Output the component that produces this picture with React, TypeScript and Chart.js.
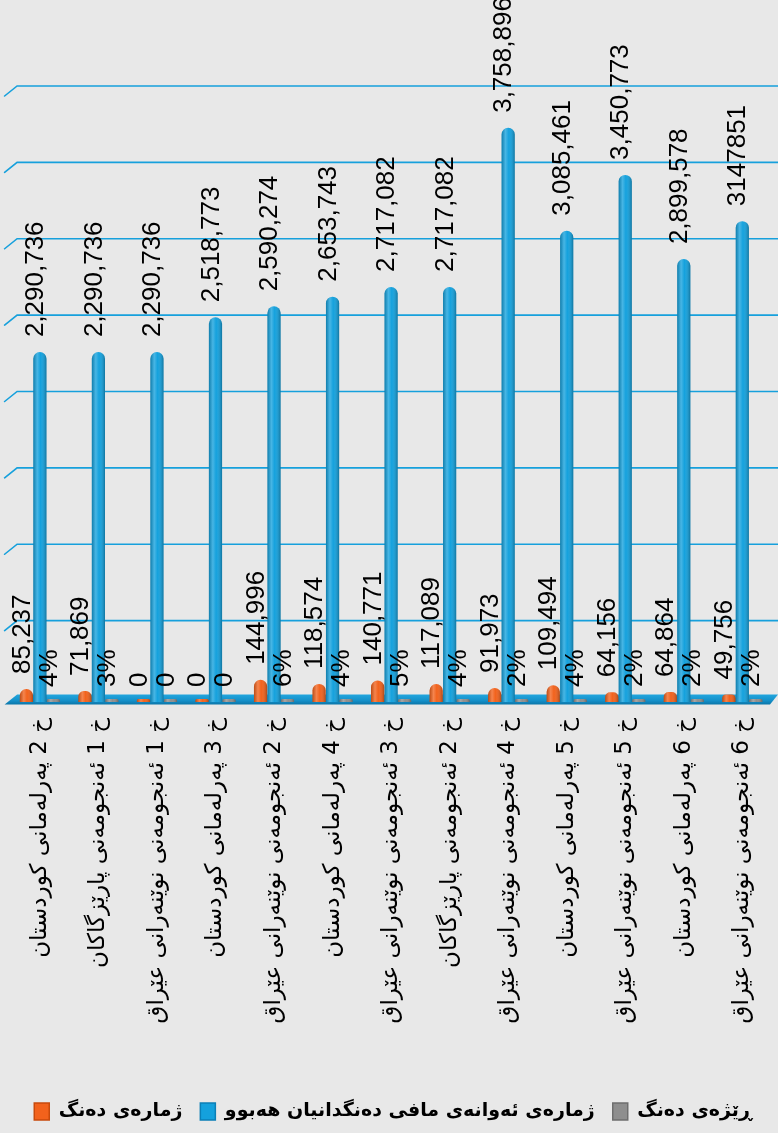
import React, { useEffect, useRef } from "react";
import { Chart, registerables } from "chart.js";

Chart.register(...registerables);

// ---- data ----
const categories = [
  "خ 2 پەرلەمانی کوردستان",
  "خ 1 ئەنجومەنی پارێزگاکان",
  "خ 1 ئەنجومەنی نوێنەرانی عێراق",
  "خ 3 پەرلەمانی کوردستان",
  "خ 2 ئەنجومەنی نوێنەرانی عێراق",
  "خ 4 پەرلەمانی کوردستان",
  "خ 3 ئەنجومەنی نوێنەرانی عێراق",
  "خ 2 ئەنجومەنی پارێزگاکان",
  "خ 4 ئەنجومەنی نوێنەرانی عێراق",
  "خ 5 پەرلەمانی کوردستان",
  "خ 5 ئەنجومەنی نوێنەرانی عێراق",
  "خ 6 پەرلەمانی کوردستان",
  "خ 6 ئەنجومەنی نوێنەرانی عێراق",
];

const votes = [85237, 71869, 0, 0, 144996, 118574, 140771, 117089, 91973, 109494, 64156, 64864, 49756];
const eligible = [2290736, 2290736, 2290736, 2518773, 2590274, 2653743, 2717082, 2717082, 3758896, 3085461, 3450773, 2899578, 3147851];
const turnoutPct = [4, 3, 0, 0, 6, 4, 5, 4, 2, 4, 2, 2, 2];

const seriesNames = [
  "ژمارەی دەنگ",
  "ژمارەی ئەوانەی مافی دەنگدانیان هەبوو",
  "ڕێژەی دەنگ",
];

const yMin = 0;
const yMax = 4000000;
const yStep = 500000;

// ---- styles ----
const BG = "#e8e8e8";
const COLORS = ["#f2621c", "#14a1dd", "#8e8e8e"];
const BORDERS = ["#c84a0c", "#0b7fb6", "#6e6e6e"];
const GRID = "#16a0dc";
const LABEL_FONT = "26px 'Liberation Sans', Arial, sans-serif";

const formatLabel = (ds: number, i: number, v: number) => {
  if (ds === 2) return v === 0 ? "0" : `${v}%`;
  if (ds === 1 && i === eligible.length - 1) return String(v);
  return v.toLocaleString("en-US");
};

const wallPlugin = {
  id: "wall",
  beforeDatasetsDraw(chart: any) {
    const { ctx, chartArea, scales } = chart;
    const y = scales.y;
    const left = chartArea.left;
    const right = chart.width;
    const zero = y.getPixelForValue(0);
    ctx.save();
    ctx.strokeStyle = GRID;
    ctx.lineWidth = 1.6;
    ctx.lineCap = "round";
    y.ticks.forEach((t: any) => {
      if (t.value === 0) return;
      const py = y.getPixelForValue(t.value) - 5;
      ctx.beginPath();
      ctx.moveTo(left - 6, py + 10);
      ctx.lineTo(left + 6.5, py);
      ctx.lineTo(right, py);
      ctx.stroke();
    });
    const g = ctx.createLinearGradient(0, zero - 7.5, 0, zero + 2.5);
    g.addColorStop(0, "#22a6de");
    g.addColorStop(0.6, "#1490c9");
    g.addColorStop(1, "#0b75a8");
    ctx.fillStyle = g;
    ctx.beginPath();
    ctx.moveTo(left - 6, zero + 2.5);
    ctx.lineTo(left + 6.5, zero - 7.5);
    ctx.lineTo(right, zero - 7.5);
    ctx.lineTo(right - 8, zero + 2.5);
    ctx.closePath();
    ctx.fill();
    ctx.restore();
  },
};

const shadePlugin = {
  id: "shade",
  afterDatasetsDraw(chart: any) {
    const { ctx } = chart;
    ctx.save();
    chart.data.datasets.forEach((_: any, di: number) => {
      const meta = chart.getDatasetMeta(di);
      meta.data.forEach((el: any) => {
        const { x, width } = el.getProps(["x", "width"], true);
        const gr = ctx.createLinearGradient(x - width / 2, 0, x + width / 2, 0);
        gr.addColorStop(0, "rgba(0,0,0,0.22)");
        gr.addColorStop(0.3, "rgba(255,255,255,0.22)");
        gr.addColorStop(0.55, "rgba(255,255,255,0.0)");
        gr.addColorStop(1, "rgba(0,0,0,0.28)");
        const o = el.options;
        const bg = o.backgroundColor;
        const bw = o.borderWidth;
        o.backgroundColor = gr;
        o.borderWidth = 0;
        el.draw(ctx, chart.chartArea);
        o.backgroundColor = bg;
        o.borderWidth = bw;
      });
    });
    ctx.restore();
  },
};

const labelPlugin = {
  id: "valueLabels",
  afterDatasetsDraw(chart: any) {
    const { ctx, scales } = chart;
    ctx.save();
    ctx.font = LABEL_FONT;
    ctx.fillStyle = "#000";
    ctx.textAlign = "left";
    ctx.textBaseline = "middle";
    chart.data.datasets.forEach((ds: any, di: number) => {
      const meta = chart.getDatasetMeta(di);
      meta.data.forEach((el: any, i: number) => {
        const v = ds.data[i];
        const px = el.getProps(["x"], true).x - 4;
        const py = scales.y.getPixelForValue(v) - 15;
        ctx.save();
        ctx.translate(px, py);
        ctx.rotate(-Math.PI / 2);
        ctx.fillText(formatLabel(di, i, v), 0, 0);
        ctx.restore();
      });
    });
    ctx.restore();
  },
};

export default function App() {
  const ref = useRef<HTMLCanvasElement | null>(null);

  useEffect(() => {
    document.body.style.margin = "0";
    if (!ref.current) return;
    const chart = new Chart(ref.current, {
      type: "bar",
      data: {
        labels: categories,
        datasets: [votes, eligible, turnoutPct].map((d, i) => ({
          label: seriesNames[i],
          data: d,
          backgroundColor: COLORS[i],
          borderColor: BORDERS[i],
          borderWidth: 0,
          borderRadius: i === 2 ? 2 : 7,
          borderSkipped: "start",
          minBarLength: 3,
          categoryPercentage: 0.69,
          barPercentage: 0.98,
        })),
      },
      options: {
        animation: false,
        responsive: false,
        maintainAspectRatio: false,
        layout: { padding: { left: 10.6, right: 2.4, top: 91, bottom: 2 } },
        scales: {
          x: {
            grid: { display: false },
            border: { display: false },
            ticks: {
              autoSkip: false,
              minRotation: 90,
              maxRotation: 90,
              padding: 8,
              color: "#000",
              font: { size: 23, family: "'DejaVu Sans', sans-serif" },
            },
            afterFit: (scale: any) => {
              scale.height = 382;
            },
          },
          y: {
            min: yMin,
            max: yMax,
            ticks: { stepSize: yStep, display: false },
            grid: { display: false, drawTicks: false },
            border: { display: false },
            afterFit: (scale: any) => {
              scale.width = 0;
            },
          },
        },
        plugins: {
          tooltip: { enabled: false },
          legend: {
            position: "bottom",
            labels: {
              color: "#000",
              boxWidth: 15,
              boxHeight: 17,
              padding: 18,
              font: { size: 19, weight: "bold", family: "'DejaVu Sans', sans-serif" },
              generateLabels: (c: any) =>
                c.data.datasets.map((ds: any, i: number) => ({
                  text: ds.label,
                  fillStyle: COLORS[i],
                  strokeStyle: BORDERS[i],
                  lineWidth: 1.5,
                  datasetIndex: i,
                  hidden: false,
                })),
            },
          },
        },
      },
      plugins: [wallPlugin, shadePlugin, labelPlugin],
    } as any);
    return () => chart.destroy();
  }, []);

  return (
    <div style={{ position: "absolute", left: 0, top: 0, width: 778, height: 1133, background: BG }}>
      <canvas ref={ref} width={778} height={1133} style={{ display: "block" }} />
    </div>
  );
}
